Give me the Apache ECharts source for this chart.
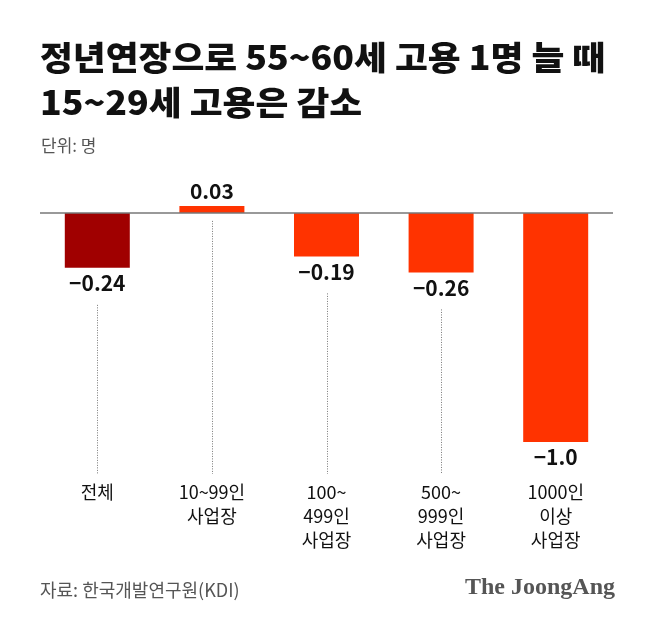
<!DOCTYPE html>
<html>
<head>
<meta charset="utf-8">
<script src="https://cdn.jsdelivr.net/npm/echarts@6/dist/echarts.min.js"></script>
<style>
  html, body { margin: 0; padding: 0; background: #fff; }
  #chart { width: 658px; height: 631px; }
</style>
</head>
<body>
<div id="chart"></div>
<script>
const titleLines = ["정년연장으로 55~60세 고용 1명 늘 때", "15~29세 고용은 감소"];
const unitText = "단위: 명";
const sourceText = "자료: 한국개발연구원(KDI)";
const logoText = "The JoongAng";

const categories = [
  "전체",
  "10~99인\n사업장",
  "100~\n499인\n사업장",
  "500~\n999인\n사업장",
  "1000인\n이상\n사업장",
];
const values = [-0.24, 0.03, -0.19, -0.26, -1.0];
const valueLabels = ["−0.24", "0.03", "−0.19", "−0.26", "−1.0"];

const Y_MIN = -1.14;
const Y_MAX = 0.1;
const FONT = '"Noto Sans CJK KR", "Noto Sans", sans-serif';
const TOTAL_COLOR = "#a00000";
const BAR_COLOR = "#ff3300";

const chart = echarts.init(document.getElementById("chart"));

const titleStyle = {
  fontSize: 30,
  fontWeight: 900,
  fontFamily: FONT,
  fill: "#111",
  verticalAlign: "middle",
};

const option = {
  backgroundColor: "#fff",
  animation: false,
  grid: { left: 40, right: 45, top: 190, bottom: 157 },
  xAxis: {
    type: "category",
    data: categories,
    axisLine: { show: false },
    axisTick: { show: false },
    axisLabel: {
      color: "#111",
      fontSize: 18,
      lineHeight: 24,
      fontFamily: FONT,
      margin: 6,
      interval: 0,
    },
  },
  yAxis: {
    type: "value",
    min: Y_MIN,
    max: Y_MAX,
    show: false,
  },
  graphic: [
    {
      type: "text",
      x: 40,
      y: 57,
      scaleX: 1.19,
      scaleY: 1.1,
      style: Object.assign({ text: titleLines[0] }, titleStyle),
    },
    {
      type: "text",
      x: 40,
      y: 102,
      scaleX: 1.19,
      scaleY: 1.1,
      style: Object.assign({ text: titleLines[1] }, titleStyle),
    },
    {
      type: "text",
      x: 41,
      y: 146,
      style: {
        text: unitText,
        fontSize: 17,
        fontFamily: FONT,
        fill: "#555",
        verticalAlign: "middle",
      },
    },
    {
      type: "text",
      x: 40,
      y: 590,
      style: {
        text: sourceText,
        fontSize: 18,
        fontFamily: FONT,
        fill: "#555",
        verticalAlign: "middle",
      },
    },
    {
      type: "text",
      x: 615,
      y: 588,
      style: {
        text: logoText,
        fontSize: 24,
        fontWeight: "bold",
        fontFamily: '"Liberation Serif", "DejaVu Serif", serif',
        fill: "#555",
        align: "right",
        verticalAlign: "middle",
      },
    },
  ],
  series: [
    {
      type: "bar",
      barWidth: 65,
      data: values.map((v, i) => ({
        value: v,
        itemStyle: { color: i === 0 ? TOTAL_COLOR : BAR_COLOR },
        label: { position: v < 0 ? "bottom" : "top" },
      })),
      label: {
        show: true,
        distance: 5,
        color: "#111",
        fontSize: 21,
        fontWeight: "bold",
        fontFamily: FONT,
        formatter: (p) => valueLabels[p.dataIndex],
      },
      markLine: {
        silent: true,
        symbol: "none",
        label: { show: false },
        lineStyle: { color: "#777", width: 1.5, type: "solid" },
        data: [{ yAxis: 0 }],
      },
      z: 3,
    },
    {
      // dotted leaders from value label down to category label
      type: "custom",
      silent: true,
      data: values.map((v, i) => [i, v]),
      renderItem: (params, api) => {
        const i = api.value(0);
        const v = api.value(1);
        const base = api.coord([i, 0]);
        const x = Math.round(base[0]) + 0.5;
        const start = v >= 0 ? base[1] + 8 : api.coord([i, v])[1] + 37;
        const end = api.coord([i, Y_MIN])[1];
        if (start >= end) return null;
        return {
          type: "line",
          shape: { x1: x, y1: start, x2: x, y2: end },
          style: { stroke: "#777", lineWidth: 1, lineDash: [1, 1.5] },
        };
      },
      z: 2,
    },
  ],
};

chart.setOption(option);
</script>
</body>
</html>
